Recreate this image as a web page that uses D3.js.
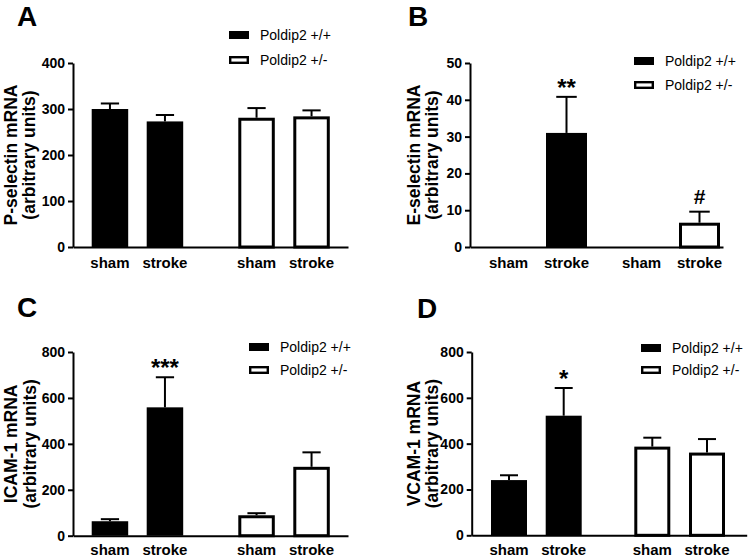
<!DOCTYPE html>
<html><head><meta charset="utf-8">
<script src="https://cdn.jsdelivr.net/npm/d3@7"></script>
<style>
body{margin:0;background:#fff;}
svg{display:block;font-family:"Liberation Sans",Arial,sans-serif;}
</style></head>
<body><svg id="c" width="749" height="558"></svg>
<script>
// ---- data ----
const groups = ["Poldip2 +/+", "Poldip2 +/-"];
const conditions = ["sham", "stroke"];
const panelLetters = ["A", "B", "C", "D"];
const yTitles = ["P-selectin mRNA", "E-selectin mRNA", "ICAM-1 mRNA", "VCAM-1 mRNA"];
const yTitle2 = "(arbitrary units)";
// order: +/+ sham, +/+ stroke, +/- sham, +/- stroke
const pselMean = [300, 273, 281, 284];
const pselErr  = [12, 14, 21, 13];
const eselMean = [0, 31, 0, 6.6];
const eselErr  = [0, 9.8, 0, 3.0];
const icamMean = [63, 559, 89, 300];
const icamErr  = [9, 131, 9, 63];
const vcamMean = [241, 522, 387, 361];
const vcamErr  = [21, 121, 39, 59];
const pselSig = ["", "", "", ""];
const eselSig = ["", "**", "", "#"];
const icamSig = ["", "***", "", ""];
const vcamSig = ["", "*", "", ""];
const pselTicks = [0, 100, 200, 300, 400];
const eselTicks = [0, 10, 20, 30, 40, 50];
const icamTicks = [0, 200, 400, 600, 800];
const vcamTicks = [0, 200, 400, 600, 800];

// ---- layout ----
const layouts = [
  {x0:73, x1:348, yb:247, yt:63, first:91.7, barW:36.5, inner:55, gstep:146.6, lx:229, ly:35, lgap:25, lt:[17,26], tx:[17,35], cy:21},
  {x0:470, x1:723, yb:247, yt:63, first:488, barW:41, inner:58, gstep:133, lx:634, ly:61, lgap:24, lt:[408,26], tx:[419.5,438], cy:21},
  {x0:73, x1:348, yb:535.7, yt:352, first:91.7, barW:36.5, inner:55, gstep:146.6, lx:249, ly:347, lgap:23, lt:[17,317], tx:[17,36], cy:18.8},
  {x0:471.7, x1:746.7, yb:535.3, yt:352, first:491, barW:36, inner:54.7, gstep:143.3, lx:641, ly:348, lgap:22, lt:[417,318], tx:[419.5,438], cy:19.2}
];
const panels = [
  {mean:pselMean, err:pselErr, sig:pselSig, ticks:pselTicks},
  {mean:eselMean, err:eselErr, sig:eselSig, ticks:eselTicks},
  {mean:icamMean, err:icamErr, sig:icamSig, ticks:icamTicks},
  {mean:vcamMean, err:vcamErr, sig:vcamSig, ticks:vcamTicks}
];

const svg = d3.select("#c");
const FONT = 14;

panels.forEach((p, i) => {
  const L = layouts[i];
  const g = svg.append("g");
  const ymax = p.ticks[p.ticks.length - 1];
  const y = d3.scaleLinear().domain([0, ymax]).range([L.yb, L.yt]);
  const groupW = L.inner + L.barW;
  const xg = d3.scaleBand().domain(groups)
    .range([L.first, L.first + L.gstep + groupW])
    .paddingInner((L.gstep - groupW) / L.gstep).paddingOuter(0);
  const xc = d3.scaleBand().domain(conditions)
    .range([0, groupW]).paddingInner((L.inner - L.barW) / L.inner).paddingOuter(0);

  const data = [];
  groups.forEach((gr, gi) => conditions.forEach((c, ci) => {
    const k = gi * 2 + ci;
    data.push({group: gr, cond: c, gi, mean: p.mean[k], err: p.err[k], sig: p.sig[k]});
  }));

  // y axis
  const ya = g.append("g").attr("transform", `translate(${L.x0},0)`)
    .call(d3.axisLeft(y).tickValues(p.ticks).tickFormat(d3.format("d")).tickSizeInner(5).tickSizeOuter(0).tickPadding(3));
  ya.select(".domain").attr("stroke", "#000").attr("stroke-width", 2);
  ya.selectAll(".tick line").attr("stroke", "#000").attr("stroke-width", 2);
  ya.selectAll(".tick text").attr("fill", "#000").style("font-size", FONT + "px").style("font-weight", "bold")
    .style("font-family", '"Liberation Sans",Arial,sans-serif');

  // bars
  const bx = d => xg(d.group) + xc(d.cond);
  data.filter(d => d.mean > 0).forEach(d => {
    const x = bx(d);
    if (d.gi === 0) {
      g.append("rect").attr("x", x).attr("y", y(d.mean)).attr("width", L.barW)
        .attr("height", y(0) - y(d.mean)).attr("fill", "#000");
    } else {
      g.append("rect").attr("x", x + 1.5).attr("y", y(d.mean) + 1.5).attr("width", L.barW - 3)
        .attr("height", y(0) - y(d.mean) - 1.5).attr("fill", "#fff").attr("stroke", "#000").attr("stroke-width", 3);
    }
    if (d.err > 0) {
      const cx = x + L.barW / 2, cw = L.barW * 0.5;
      g.append("line").attr("x1", cx).attr("x2", cx).attr("y1", y(d.mean)).attr("y2", y(d.mean + d.err))
        .attr("stroke", "#000").attr("stroke-width", 2);
      g.append("line").attr("x1", cx - cw / 2).attr("x2", cx + cw / 2)
        .attr("y1", y(d.mean + d.err)).attr("y2", y(d.mean + d.err))
        .attr("stroke", "#000").attr("stroke-width", 2);
    }
    if (d.sig) {
      const top = y(d.mean + d.err);
      const isStar = d.sig.indexOf("*") >= 0;
      g.append("text").attr("x", x + L.barW / 2).attr("y", isStar ? top - 1 : top - 8)
        .attr("text-anchor", "middle").style("font-size", isStar ? "24px" : "21px")
        .style("font-weight", "bold").text(d.sig);
    }
  });

  // x axis
  const xa = g.append("g").attr("transform", `translate(0,${L.yb})`)
    .call(d3.axisBottom(d3.scaleLinear().range([L.x0, L.x1])).tickValues([]).tickSizeOuter(0));
  xa.select(".domain").attr("stroke", "#000").attr("stroke-width", 2);

  // category labels
  data.forEach(d => {
    g.append("text").attr("x", bx(d) + L.barW / 2).attr("y", L.yb + L.cy)
      .attr("text-anchor", "middle").style("font-size", "15px").style("font-weight", "bold").text(d.cond);
  });

  // y title
  const ym = (L.yb + L.yt) / 2;
  [yTitles[i], yTitle2].forEach((t, li) => {
    g.append("text").attr("transform", `translate(${L.tx[li]},${ym}) rotate(-90)`)
      .attr("text-anchor", "middle").style("font-size", "17.5px").style("font-weight", "bold").text(t);
  });

  // panel letter
  g.append("text").attr("x", L.lt[0]).attr("y", L.lt[1]).style("font-size", "28px")
    .style("font-weight", "bold").text(panelLetters[i]);

  // legend
  groups.forEach((gr, gi) => {
    const cy = L.ly + gi * L.lgap;
    if (gi === 0) {
      g.append("rect").attr("x", L.lx).attr("y", cy - 4).attr("width", 20).attr("height", 8).attr("fill", "#000");
    } else {
      g.append("rect").attr("x", L.lx + 1.2).attr("y", cy - 2.8).attr("width", 17.6).attr("height", 5.6)
        .attr("fill", "#fff").attr("stroke", "#000").attr("stroke-width", 2.4);
    }
    g.append("text").attr("x", L.lx + 31).attr("y", cy + 5).style("font-size", "14px").text(gr);
  });
});
</script></body></html>
